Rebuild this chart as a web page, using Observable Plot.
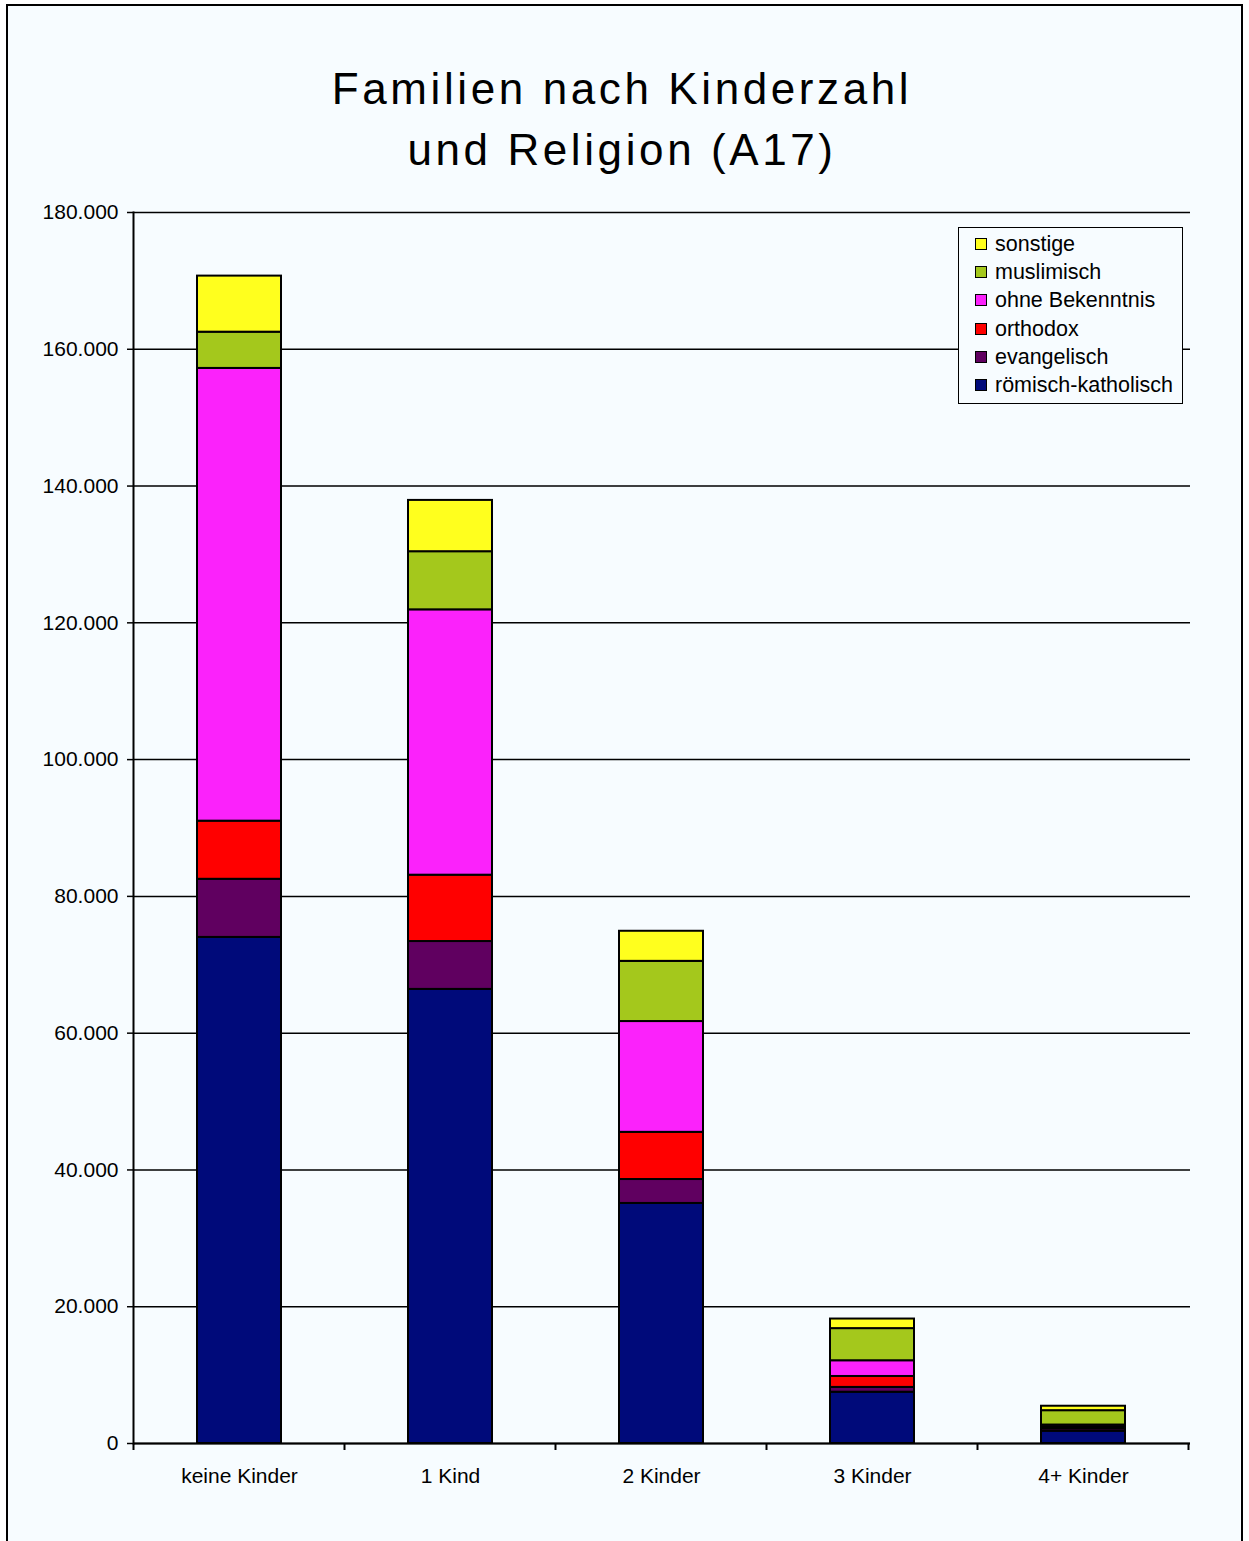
<!DOCTYPE html>
<html>
<head>
<meta charset="utf-8">
<script src="https://cdn.jsdelivr.net/npm/d3@7"></script>
<script src="https://cdn.jsdelivr.net/npm/@observablehq/plot@0.6"></script>
<style>
  html, body { margin: 0; padding: 0; background: #ffffff; }
  #wrap { position: relative; width: 1249px; height: 1541px; overflow: hidden; font-family: "Liberation Sans", Arial, sans-serif; }
  #frame { position: absolute; left: 6px; top: 4px; width: 1237px; height: 1600px; border: 2px solid #000; background: #f7fcff; box-sizing: border-box; }
  #title { position: absolute; left: 0; top: 58px; width: 1244px; text-align: center; font-size: 44px; line-height: 61px; letter-spacing: 3.6px; color: #000; }
  #chart { position: absolute; left: 0; top: 0; }
  #legend { position: absolute; left: 958px; top: 227px; width: 225px; height: 177px; box-sizing: border-box; border: 1px solid #000; background: #f7fcff; padding-top: 2px; }
  .row { position: relative; height: 28.2px; font-size: 21.5px; line-height: 28.2px; color: #000; }
  .sw { position: absolute; left: 16px; top: 8px; width: 12px; height: 12px; box-sizing: border-box; border: 1.5px solid #000; }
  .lab { position: absolute; left: 36px; top: 0; white-space: nowrap; }
</style>
</head>
<body>
<div id="wrap">
  <div id="frame"></div>
  <div id="title">Familien nach Kinderzahl<br>und Religion (A17)</div>
  <div id="chart"></div>
  <div id="legend"></div>
</div>
<script>
const categories = ["keine Kinder", "1 Kind", "2 Kinder", "3 Kinder", "4+ Kinder"];
const series = ["römisch-katholisch", "evangelisch", "orthodox", "ohne Bekenntnis", "muslimisch", "sonstige"];
const colors = ["#000a7a", "#600060", "#ff0000", "#fb22fb", "#a4c81c", "#ffff1e"];

const roemischKatholisch = [74000, 66400, 35100, 7500, 1800];
const evangelisch        = [8500, 7000, 3500, 700, 350];
const orthodox           = [8500, 9700, 6900, 1600, 250];
const ohneBekenntnis     = [66200, 38800, 16200, 2300, 300];
const muslimisch         = [5300, 8500, 8800, 4700, 2100];
const sonstige           = [8200, 7500, 4400, 1400, 650];

const yTicks = [0, 20000, 40000, 60000, 80000, 100000, 120000, 140000, 160000, 180000];

const valueLists = [roemischKatholisch, evangelisch, orthodox, ohneBekenntnis, muslimisch, sonstige];
const data = [];
series.forEach((s, si) => categories.forEach((c, ci) => data.push({cat: c, series: s, value: valueLists[si][ci]})));

const fmt = d => d3.format(",")(d).replace(/,/g, ".");

const plot = Plot.plot({
  width: 1249,
  height: 1541,
  marginLeft: 133,
  marginRight: 59,
  marginTop: 212,
  marginBottom: 98,
  style: {background: "transparent", fontFamily: "'Liberation Sans', Arial, sans-serif", fontSize: "21px", color: "#000"},
  x: {domain: categories, paddingInner: 0.6, paddingOuter: 0.3, label: null},
  y: {domain: [0, 180000], label: null},
  color: {domain: series, range: colors},
  marks: [
    Plot.gridY(yTicks, {stroke: "#000", strokeOpacity: 1, strokeWidth: 1.5}),
    Plot.barY(data, Plot.stackY({order: series}, {x: "cat", y: "value", fill: "series", stroke: "#000", strokeWidth: 2})),
    Plot.frame({anchor: "left", stroke: "#000", strokeWidth: 2}),
    Plot.ruleY([0], {stroke: "#000", strokeWidth: 2}),
    Plot.axisY(yTicks, {tickFormat: fmt, tickSize: 6, tickPadding: 9, fontSize: 21, stroke: "#000", strokeWidth: 1.5, label: null}),
    Plot.axisX({tickSize: 0, tickPadding: 25, fontSize: 21, label: null})
  ]
});
document.getElementById("chart").appendChild(plot);

// category boundary ticks on the x axis, derived from the band scale
const xs = plot.scale("x");
const ys = plot.scale("y");
const half = (xs.step - xs.bandwidth) / 2;
const bounds = categories.map(c => xs.apply(c) - half);
bounds.push(xs.apply(categories[categories.length - 1]) + xs.bandwidth + half);
const y0 = ys.apply(0);
d3.select(plot).append("g")
  .selectAll("line").data(bounds).join("line")
  .attr("x1", d => d).attr("x2", d => d)
  .attr("y1", y0).attr("y2", y0 + 7)
  .attr("stroke", "#000").attr("stroke-width", 2);

// legend (top to bottom: reverse stacking order)
const legend = d3.select("#legend");
series.slice().reverse().forEach(s => {
  const row = legend.append("div").attr("class", "row");
  row.append("div").attr("class", "sw").style("background", colors[series.indexOf(s)]);
  row.append("div").attr("class", "lab").text(s);
});
</script>
</body>
</html>
